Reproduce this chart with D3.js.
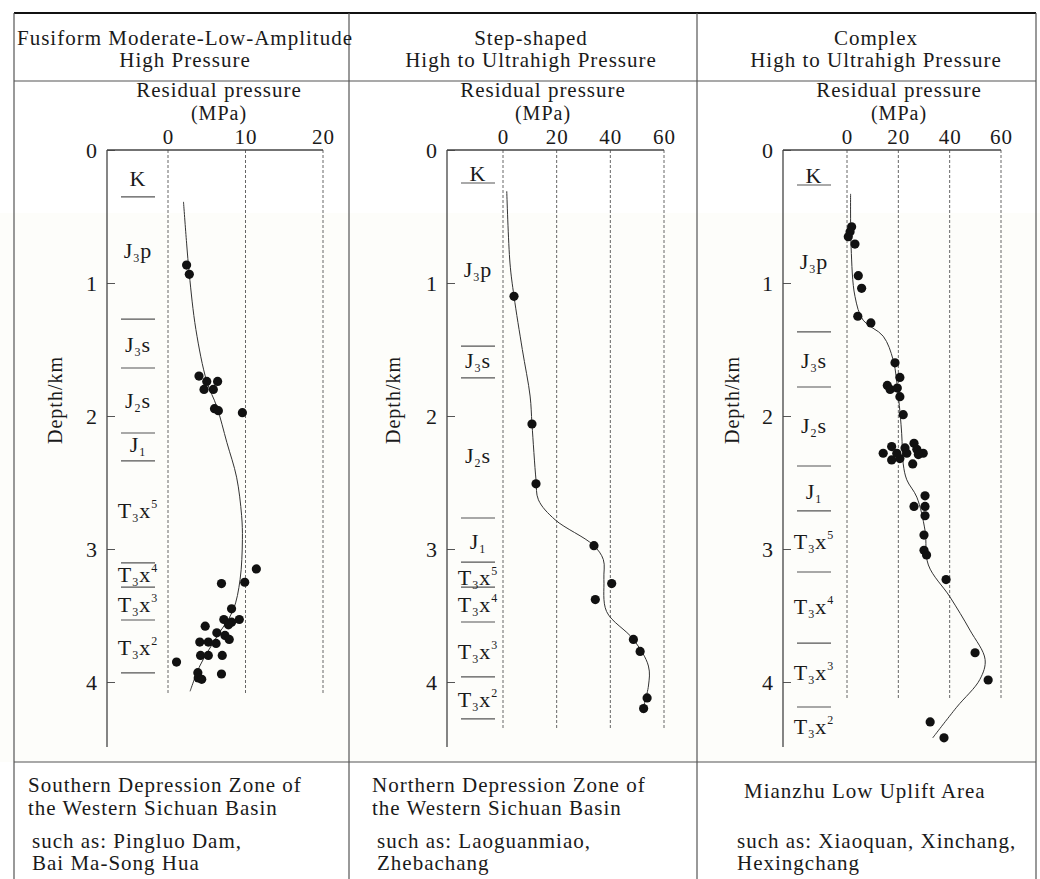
<!DOCTYPE html>
<html>
<head>
<meta charset="utf-8">
<script src="https://cdn.jsdelivr.net/npm/d3@7"></script>
<style>
  body { margin: 0; background: #fff; }
  svg text { font-family: "Liberation Serif", "Times New Roman", serif; fill: #1a1a1a; letter-spacing: 1px; }
</style>
</head>
<body>
<svg id="chart" width="1040" height="879"></svg>
<script>
// ---- data (pressure MPa, depth km) ----
const depthTicks = [0, 1, 2, 3, 4];
const fusiformTicks = [0, 10, 20];
const stepTicks = [0, 20, 40, 60];
const complexTicks = [0, 20, 40, 60];

const titles = [
  ["Fusiform Moderate-Low-Amplitude", "High Pressure"],
  ["Step-shaped", "High to Ultrahigh Pressure"],
  ["Complex", "High to Ultrahigh Pressure"]
];

const notes = [
  ["Southern Depression Zone of", "the Western Sichuan Basin", "such as: Pingluo Dam,", "Bai Ma-Song Hua"],
  ["Northern Depression Zone of", "the Western Sichuan Basin", "such as: Laoguanmiao,", "Zhebachang"],
  ["Mianzhu Low Uplift Area", "such as: Xiaoquan, Xinchang,", "Hexingchang"]
];

// measured points [pressure, depth]
const fusiformPoints = [
  [2.4, 0.865], [2.75, 0.935], [4.0, 1.70], [5.0, 1.74], [6.4, 1.74], [4.65, 1.80], [5.85, 1.80],
  [6.0, 1.945], [6.5, 1.96], [9.6, 1.975], [11.4, 3.15], [6.9, 3.26], [9.9, 3.25], [8.2, 3.45],
  [7.2, 3.53], [8.2, 3.55], [9.2, 3.53], [7.8, 3.57], [4.8, 3.58], [6.3, 3.63], [7.35, 3.65],
  [7.9, 3.68], [4.1, 3.70], [5.2, 3.70], [6.2, 3.71], [4.2, 3.80], [5.2, 3.80], [7.0, 3.80],
  [1.1, 3.85], [3.85, 3.93], [6.9, 3.94], [3.9, 3.97], [4.35, 3.98]
];
const fusiformCurve = [
  [2.0, 0.39], [2.4, 0.70], [2.75, 0.935], [3.6, 1.35], [5.0, 1.74], [6.3, 1.93], [7.6, 2.2],
  [8.85, 2.46], [9.5, 2.75], [9.6, 2.93], [9.3, 3.23], [8.4, 3.46], [6.3, 3.66], [4.1, 3.88], [2.85, 4.07]
];

const stepPoints = [
  [4.1, 1.10], [10.8, 2.06], [12.3, 2.51], [33.9, 2.975], [40.5, 3.26], [34.4, 3.38],
  [48.6, 3.68], [51.1, 3.77], [53.7, 4.12], [52.4, 4.20]
];
const stepCurve = [
  [1.4, 0.31], [2.6, 0.85], [4.1, 1.10], [7.2, 1.5], [10.1, 1.85], [10.8, 2.06], [12.3, 2.48],
  [13.2, 2.63], [19.4, 2.78], [33.6, 2.97], [37.4, 3.08], [37.6, 3.23], [38.6, 3.47], [48.6, 3.68],
  [54.2, 3.88], [54.2, 4.03], [51.7, 4.23]
];

const complexPoints = [
  [1.8, 0.577], [1.2, 0.614], [0.5, 0.652], [3.1, 0.707], [4.4, 0.945], [5.7, 1.04], [4.2, 1.25],
  [9.3, 1.30], [18.7, 1.60], [20.6, 1.71], [15.7, 1.77], [16.8, 1.80], [19.6, 1.79], [20.6, 1.855],
  [21.9, 1.99], [14.1, 2.28], [17.4, 2.23], [22.6, 2.24], [26.1, 2.205], [29.7, 2.28], [27.2, 2.25],
  [17.4, 2.33], [20.6, 2.32], [25.6, 2.36], [19.4, 2.28], [23.3, 2.28], [27.8, 2.29],
  [30.4, 2.60], [26.1, 2.68], [30.4, 2.68], [30.4, 2.75], [30.0, 2.895], [30.0, 3.01], [31.0, 3.045],
  [38.6, 3.23], [49.9, 3.78], [55.0, 3.985], [32.4, 4.30], [37.8, 4.42]
];
const complexCurve = [
  [1.4, 0.33], [1.6, 0.73], [3.1, 1.10], [6.3, 1.28], [14.1, 1.40], [18.0, 1.58], [20.0, 1.85],
  [21.3, 2.13], [21.9, 2.36], [23.3, 2.48], [27.2, 2.61], [30.4, 2.86], [31.7, 3.12], [40.1, 3.36],
  [47.9, 3.61], [53.8, 3.83], [51.8, 3.98], [42.7, 4.19], [33.4, 4.42]
];

// strata labels: "_" = subscript, "^" = superscript; value = depth (km) of label centre
const fusiformStrata = [["K", 0.218], ["J_3p", 0.752], ["J_3s", 1.466], ["J_2s", 1.88], ["J_1", 2.218],
  ["T_3x^5", 2.707], ["T_3x^4", 3.195], ["T_3x^3", 3.414], ["T_3x^2", 3.744]];
const fusiformBounds = [0.353, 1.271, 1.639, 2.128, 2.338, 3.105, 3.286, 3.534, 3.932];

const stepStrata = [["K", 0.173], ["J_3p", 0.895], ["J_3s", 1.586], ["J_2s", 2.30], ["J_1", 2.947],
  ["T_3x^5", 3.218], ["T_3x^4", 3.421], ["T_3x^3", 3.767], ["T_3x^2", 4.128]];
const stepBounds = [0.248, 1.474, 1.714, 2.767, 3.098, 3.286, 3.549, 3.962, 4.278];

const complexStrata = [["K", 0.188], ["J_3p", 0.842], ["J_3s", 1.579], ["J_2s", 2.068], ["J_1", 2.564],
  ["T_3x^5", 2.947], ["T_3x^4", 3.436], ["T_3x^3", 3.932], ["T_3x^2", 4.338]];
const complexBounds = [0.263, 1.368, 1.782, 2.376, 2.714, 3.173, 3.707, 4.188];

// ---- layout ----
const svg = d3.select("#chart");
const W = 1040, H = 879;
const tableTop = 13, headBottom = 81, noteTop = 762;
const colEdges = [14, 349, 697, 1036];
const plotTop = 150, axisBottom = 747;

const y = d3.scaleLinear().domain([0, 4]).range([plotTop, plotTop + 4 * 133]);

const panels = [
  { title: titles[0], ticks: fusiformTicks, points: fusiformPoints, curve: fusiformCurve,
    strata: fusiformStrata, bounds: fusiformBounds, note: notes[0],
    axisX: 107, xRange: [168, 323], dashEnd: 695, titleX: 185, rpX: 219, depthLabelX: 62,
    noteX: [28, 28, 32, 32], noteY: [792, 815, 848, 870] },
  { title: titles[1], ticks: stepTicks, points: stepPoints, curve: stepCurve,
    strata: stepStrata, bounds: stepBounds, note: notes[1],
    axisX: 447, xRange: [503, 664], dashEnd: 728, titleX: 531, rpX: 543, depthLabelX: 400,
    noteX: [372, 372, 377, 377], noteY: [792, 815, 848, 870] },
  { title: titles[2], ticks: complexTicks, points: complexPoints, curve: complexCurve,
    strata: complexStrata, bounds: complexBounds, note: notes[2],
    axisX: 783, xRange: [847, 1001], dashEnd: 698, titleX: 876, rpX: 899, depthLabelX: 739,
    noteX: [744, 737, 737], noteY: [798, 848, 870] }
];

// faint tint of the scanned figure
svg.append("rect").attr("x", 0).attr("y", 213).attr("width", W).attr("height", noteTop - 213)
  .attr("fill", "#fdfdfa");

// table frame
const frame = svg.append("g").attr("stroke", "#555").attr("stroke-width", 1.2);
frame.append("line").attr("x1", colEdges[0]).attr("x2", colEdges[3]).attr("y1", tableTop).attr("y2", tableTop)
  .attr("stroke", "#111").attr("stroke-width", 2);
[headBottom, noteTop].forEach(v => {
  frame.append("line").attr("x1", colEdges[0]).attr("x2", colEdges[3]).attr("y1", v).attr("y2", v);
});
colEdges.forEach(v => {
  frame.append("line").attr("x1", v).attr("x2", v).attr("y1", tableTop).attr("y2", H);
});

function addLabel(text, str) {
  let shift = 0;
  for (let i = 0; i < str.length; i++) {
    const c = str[i];
    if (c === "_" || c === "^") {
      const target = c === "_" ? 4 : -10;
      text.append("tspan").attr("font-size", 12).attr("dy", target - shift).text(str[++i]);
      shift = target;
    } else {
      text.append("tspan").attr("dy", -shift).text(c);
      shift = 0;
    }
  }
}

panels.forEach(p => {
  const x = d3.scaleLinear().domain([0, p.ticks[p.ticks.length - 1]]).range(p.xRange);
  const g = svg.append("g");

  // header
  p.title.forEach((t, i) => {
    g.append("text").attr("x", p.titleX).attr("y", 45 + i * 22)
      .attr("text-anchor", "middle").style("font-size", "21px").text(t);
  });

  // axis titles
  g.append("text").attr("x", p.rpX).attr("y", 97).attr("text-anchor", "middle")
    .style("font-size", "21px").text("Residual pressure");
  g.append("text").attr("x", p.rpX).attr("y", 120).attr("text-anchor", "middle")
    .style("font-size", "20px").text("(MPa)");
  g.append("text")
    .attr("transform", `translate(${p.depthLabelX},400) rotate(-90)`)
    .attr("text-anchor", "middle").style("font-size", "20px").text("Depth/km");

  // dashed grid
  g.append("g").selectAll("line").data(p.ticks).join("line")
    .attr("x1", d => x(d)).attr("x2", d => x(d))
    .attr("y1", plotTop).attr("y2", p.dashEnd)
    .attr("stroke", "#666").attr("stroke-width", 1).attr("stroke-dasharray", "3,2");

  // top pressure axis
  const xa = g.append("g").attr("transform", `translate(0,${plotTop})`)
    .call(d3.axisTop(x).tickValues(p.ticks).tickSize(0).tickPadding(6));
  xa.select(".domain").remove();
  xa.attr("font-family", null).attr("font-size", null);
  xa.selectAll("text").style("font-size", "21px").attr("fill", null);

  // depth axis
  const ya = g.append("g").attr("transform", `translate(${p.axisX},0)`)
    .call(d3.axisLeft(y).tickValues(depthTicks).tickFormat(d3.format("d")).tickSize(-8).tickPadding(9));
  ya.select(".domain").remove();
  ya.attr("font-family", null).attr("font-size", null);
  ya.selectAll("line").attr("stroke", "#555");
  ya.selectAll("text").style("font-size", "22px").attr("fill", null);

  // frame lines of the plot
  g.append("line").attr("x1", p.axisX).attr("x2", p.axisX).attr("y1", plotTop).attr("y2", axisBottom)
    .attr("stroke", "#444").attr("stroke-width", 1.3);
  g.append("line").attr("x1", p.axisX).attr("x2", x.range()[1]).attr("y1", plotTop).attr("y2", plotTop)
    .attr("stroke", "#444").attr("stroke-width", 1.3);

  // strata
  const sx = p.axisX + 31;
  g.append("g").selectAll("line").data(p.bounds).join("line")
    .attr("x1", sx - 17).attr("x2", sx + 17)
    .attr("y1", d => y(d)).attr("y2", d => y(d))
    .attr("stroke", "#555").attr("stroke-width", 1.2);
  p.strata.forEach(s => {
    const t = g.append("text").attr("x", sx).attr("y", y(s[1]) + 7.5)
      .attr("text-anchor", "middle").style("font-size", "22px");
    addLabel(t, s[0]);
  });

  // trend curve
  const line = d3.line().x(d => x(d[0])).y(d => y(d[1])).curve(d3.curveCatmullRom.alpha(0.5));
  g.append("path").datum(p.curve).attr("d", line)
    .attr("fill", "none").attr("stroke", "#333").attr("stroke-width", 1);

  // points
  g.append("g").selectAll("circle").data(p.points).join("circle")
    .attr("cx", d => x(d[0])).attr("cy", d => y(d[1])).attr("r", 4.6)
    .attr("fill", "#111");

  // notes
  p.note.forEach((t, i) => {
    g.append("text").attr("x", p.noteX[i]).attr("y", p.noteY[i])
      .style("font-size", "21px").text(t);
  });
});
</script>
</body>
</html>
